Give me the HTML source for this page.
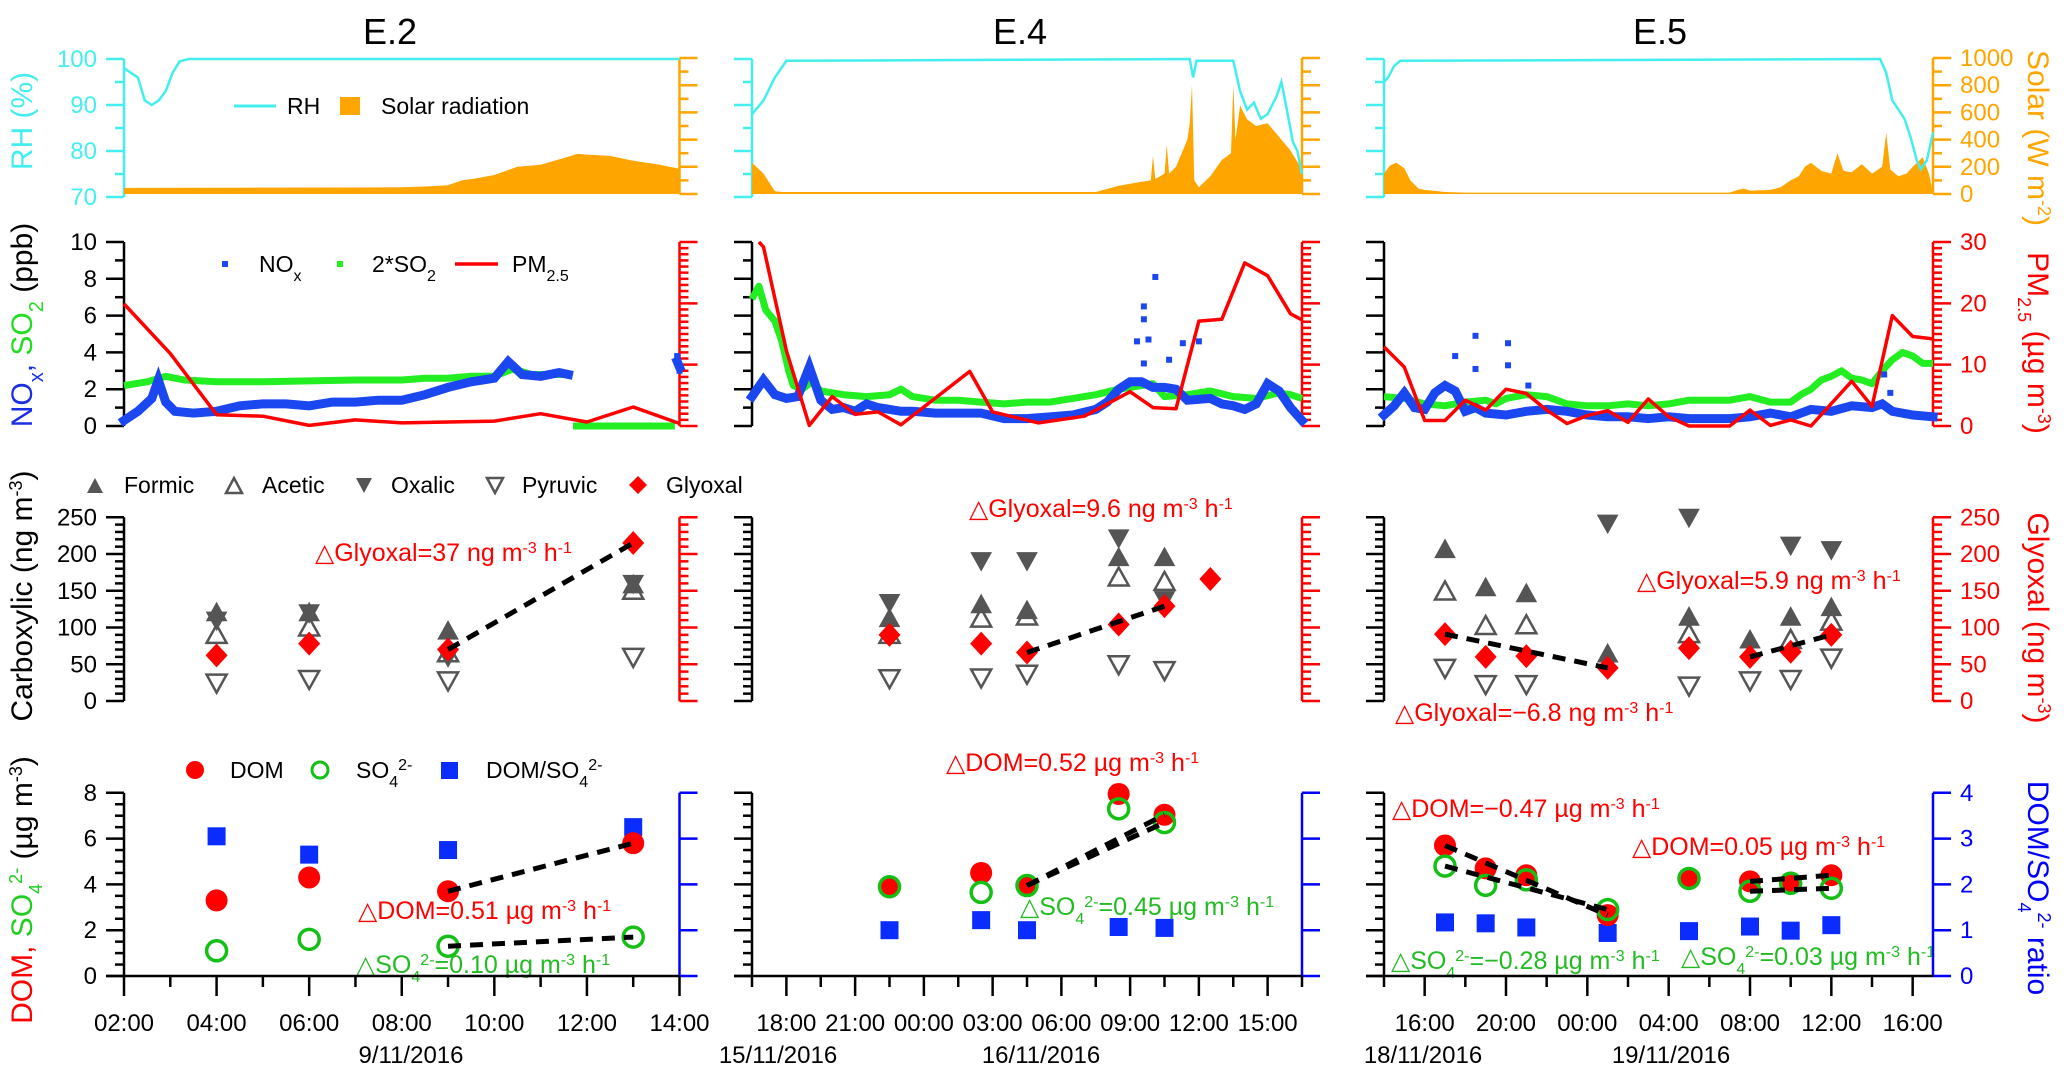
<!DOCTYPE html>
<html><head><meta charset="utf-8"><style>
html,body{margin:0;padding:0;background:#fff;}
svg{display:block;font-family:"Liberation Sans",Arial,sans-serif;}
</style></head><body>
<svg id="fig" width="2067" height="1078" viewBox="0 0 2067 1078" xmlns="http://www.w3.org/2000/svg">
<rect x="0" y="0" width="2067" height="1078" fill="#fff"/>
<g font-size="36" text-anchor="middle" fill="#000">
<text x="390" y="44">E.2</text>
<text x="1020" y="44">E.4</text>
<text x="1660" y="44">E.5</text>
</g>
<text transform="translate(32,121) rotate(-90)" font-size="30" text-anchor="middle" fill="#44eeee">RH (%)</text>
<text transform="translate(32,325) rotate(-90)" font-size="30" text-anchor="middle"><tspan fill="#1a2fe0">NO<tspan font-size="20" baseline-shift="sub">x</tspan>,</tspan> <tspan fill="#22dd22">SO<tspan font-size="20" baseline-shift="sub">2</tspan></tspan> <tspan fill="#000">(ppb)</tspan></text>
<text transform="translate(32,596) rotate(-90)" font-size="30" text-anchor="middle" fill="#000">Carboxylic (ng m<tspan font-size="18" baseline-shift="super">-3</tspan>)</text>
<text transform="translate(32,890) rotate(-90)" font-size="30" text-anchor="middle"><tspan fill="#ff0000">DOM,</tspan> <tspan fill="#22cc22">SO<tspan font-size="18" baseline-shift="sub">4</tspan><tspan font-size="18" baseline-shift="super">2-</tspan></tspan> <tspan fill="#000">(µg m<tspan font-size="18" baseline-shift="super">-3</tspan>)</tspan></text>
<text transform="translate(2028,138) rotate(90)" font-size="30" text-anchor="middle" fill="#ffa500">Solar (W m<tspan font-size="18" baseline-shift="super">-2</tspan>)</text>
<text transform="translate(2028,343) rotate(90)" font-size="30" text-anchor="middle" fill="#ff0000">PM<tspan font-size="18" baseline-shift="sub">2.5</tspan> (µg m<tspan font-size="18" baseline-shift="super">-3</tspan>)</text>
<text transform="translate(2028,618) rotate(90)" font-size="30" text-anchor="middle" fill="#ff0000">Glyoxal (ng m<tspan font-size="18" baseline-shift="super">-3</tspan>)</text>
<text transform="translate(2028,888) rotate(90)" font-size="30" text-anchor="middle" fill="#0000ff">DOM/SO<tspan font-size="18" baseline-shift="sub">4</tspan><tspan font-size="18" baseline-shift="super">2-</tspan> ratio</text>
<g font-size="23" fill="#000">
<line x1="234" y1="106" x2="276" y2="106" stroke="#44eeee" stroke-width="3"/>
<text x="287" y="114">RH</text>
<rect x="340" y="97" width="20" height="18" fill="#ffa500"/>
<text x="381" y="114">Solar radiation</text>
<rect x="222" y="261" width="6" height="6" fill="#1a47f0"/>
<text x="259" y="272">NO<tspan font-size="16" baseline-shift="sub">x</tspan></text>
<rect x="337" y="261" width="6" height="6" fill="#22ee22"/>
<text x="372" y="272">2*SO<tspan font-size="16" baseline-shift="sub">2</tspan></text>
<line x1="455" y1="264" x2="498" y2="264" stroke="#ff0000" stroke-width="3.5"/>
<text x="512" y="272">PM<tspan font-size="16" baseline-shift="sub">2.5</tspan></text>
<polygon points="87,493 95,478 103,493" fill="#555"/>
<text x="124" y="493">Formic</text>
<polygon points="226,493 234,478 242,493" fill="none" stroke="#555" stroke-width="2.5"/>
<text x="262" y="493">Acetic</text>
<polygon points="356,478 364,493 372,478" fill="#555"/>
<text x="391" y="493">Oxalic</text>
<polygon points="487,478 495,493 503,478" fill="none" stroke="#555" stroke-width="2.5"/>
<text x="522" y="493">Pyruvic</text>
<polygon points="638,476 647,485 638,494 629,485" fill="#ff0000"/>
<text x="666" y="493">Glyoxal</text>
<circle cx="195" cy="770" r="9" fill="#ff0000"/>
<text x="230" y="778">DOM</text>
<circle cx="320" cy="770" r="8" fill="none" stroke="#15c015" stroke-width="3"/>
<text x="356" y="778">SO<tspan font-size="16" baseline-shift="sub">4</tspan><tspan font-size="16" baseline-shift="super">2-</tspan></text>
<rect x="441" y="762" width="17" height="17" fill="#0a2cff"/>
<text x="486" y="778">DOM/SO<tspan font-size="16" baseline-shift="sub">4</tspan><tspan font-size="16" baseline-shift="super">2-</tspan></text>
</g>
<g font-size="25">
<text x="315" y="561" fill="#ff0000">△Glyoxal=37 ng m<tspan font-size="16" baseline-shift="super">-3</tspan> h<tspan font-size="16" baseline-shift="super">-1</tspan></text>
<text x="358" y="919" fill="#ff0000">△DOM=0.51 µg m<tspan font-size="16" baseline-shift="super">-3</tspan> h<tspan font-size="16" baseline-shift="super">-1</tspan></text>
<text x="356" y="973" fill="#22bb22">△SO<tspan font-size="16" baseline-shift="sub">4</tspan><tspan font-size="16" baseline-shift="super">2-</tspan>=0.10 µg m<tspan font-size="16" baseline-shift="super">-3</tspan> h<tspan font-size="16" baseline-shift="super">-1</tspan></text>
<text x="969" y="517" fill="#ff0000">△Glyoxal=9.6 ng m<tspan font-size="16" baseline-shift="super">-3</tspan> h<tspan font-size="16" baseline-shift="super">-1</tspan></text>
<text x="946" y="771" fill="#ff0000">△DOM=0.52 µg m<tspan font-size="16" baseline-shift="super">-3</tspan> h<tspan font-size="16" baseline-shift="super">-1</tspan></text>
<text x="1020" y="915" fill="#22bb22">△SO<tspan font-size="16" baseline-shift="sub">4</tspan><tspan font-size="16" baseline-shift="super">2-</tspan>=0.45 µg m<tspan font-size="16" baseline-shift="super">-3</tspan> h<tspan font-size="16" baseline-shift="super">-1</tspan></text>
<text x="1637" y="589" fill="#ff0000">△Glyoxal=5.9 ng m<tspan font-size="16" baseline-shift="super">-3</tspan> h<tspan font-size="16" baseline-shift="super">-1</tspan></text>
<text x="1395" y="721" fill="#ff0000">△Glyoxal=−6.8 ng m<tspan font-size="16" baseline-shift="super">-3</tspan> h<tspan font-size="16" baseline-shift="super">-1</tspan></text>
<text x="1392" y="817" fill="#ff0000">△DOM=−0.47 µg m<tspan font-size="16" baseline-shift="super">-3</tspan> h<tspan font-size="16" baseline-shift="super">-1</tspan></text>
<text x="1632" y="855" fill="#ff0000">△DOM=0.05 µg m<tspan font-size="16" baseline-shift="super">-3</tspan> h<tspan font-size="16" baseline-shift="super">-1</tspan></text>
<text x="1391" y="969" fill="#22bb22">△SO<tspan font-size="16" baseline-shift="sub">4</tspan><tspan font-size="16" baseline-shift="super">2-</tspan>=−0.28 µg m<tspan font-size="16" baseline-shift="super">-3</tspan> h<tspan font-size="16" baseline-shift="super">-1</tspan></text>
<text x="1681" y="965" fill="#22bb22">△SO<tspan font-size="16" baseline-shift="sub">4</tspan><tspan font-size="16" baseline-shift="super">2-</tspan>=0.03 µg m<tspan font-size="16" baseline-shift="super">-3</tspan> h<tspan font-size="16" baseline-shift="super">-1</tspan></text>
</g>
<g id="plot"></g>
</svg>
<script>
const e2RhT=[0,0.15,0.3,0.45,0.6,0.75,0.9,1.05,1.2,1.4,12];
const e2RhV=[98,97,96,91,90,91,93,97,99.5,100,100];
const e2SolT=[0,5,6,6.5,7,7.3,7.6,8,8.5,9,9.5,9.8,10,10.5,11,11.5,12];
const e2SolV=[45,48,50,55,65,100,115,140,200,215,265,295,290,280,245,220,185];
const e4RhT=[0,0.5,1,1.5,19.1,19.25,19.4,21,21.3,21.6,21.9,22.2,22.5,22.9,23.1,23.3,23.6,23.8,24];
const e4RhV=[88,91,96,99.6,100,96,99.6,99.6,93,89,90.5,87,88,92,95,90,82,80,75];
const e4SolT=[0,0.5,1,1.3,15,16,17,17.4,17.5,17.6,18,18.1,18.2,18.5,19,19.1,19.2,19.3,19.5,20,20.5,20.9,21,21.1,21.3,21.6,22,22.5,23,23.5,24];
const e4SolV=[230,150,20,15,15,60,90,100,280,110,150,360,150,200,400,520,800,100,50,130,250,300,800,400,650,550,500,520,420,320,180];
const e5RhT=[0,0.2,0.5,0.8,24.4,24.7,25,25.3,25.6,25.9,26.2,26.4,26.7,27];
const e5RhV=[95,96,98.5,99.6,100,97,91,89,87,83,78,76,78,84];
const e5SolT=[0,0.3,0.6,1,1.3,1.7,2,3,4,17,17.4,17.7,18,19,19.5,20,20.4,20.7,21,21.5,22,22.3,22.6,23,23.5,24,24.5,24.7,24.9,25.3,25.7,26,26.5,26.8,27];
const e5SolV=[150,210,230,190,100,40,30,15,10,10,30,40,25,30,50,100,130,200,230,170,150,300,170,160,220,150,200,450,180,130,150,200,270,150,10];

const e2NoxT=[0,0.3,0.6,0.74,0.9,1.1,1.5,2,2.5,3,3.5,4,4.5,5,5.5,6,6.5,7,7.5,8,8.3,8.6,9,9.4,9.6,9.7,11.95,12];
const e2NoxV=[0.3,0.8,1.5,2.5,1.3,0.8,0.7,0.8,1.1,1.2,1.2,1.1,1.3,1.3,1.4,1.4,1.7,2.1,2.4,2.6,3.5,2.8,2.7,2.9,2.8,null,3.5,3.2];
const e2So2T=[0,0.5,0.9,1.3,2,3,4,5,6,6.5,7,7.5,8,8.4,8.8,9.6,9.65,9.7,11.9,11.95,12];
const e2So2V=[2.2,2.4,2.7,2.5,2.4,2.4,2.45,2.5,2.5,2.6,2.6,2.7,2.7,3.1,2.8,2.8,null,0,0,null,2.6];
const e2PmT=[0,1,2,3,4,5,6,8,9,10,11,12];
const e2PmV=[19.9,11.8,1.85,1.6,0.1,1.0,0.5,0.8,2.0,0.65,3.1,0.4];
const e2NoxOutT=[11.95,12];
const e2NoxOutV=[3.8,3.0];

const e4NoxT=[0,0.5,1,1.5,2,2.5,3,3.5,4,4.5,5,5.5,6,6.5,7,8,9,10,11,12,13,14,15,15.5,16,16.5,17,17.5,18,18.5,19,20,20.5,21,21.5,22,22.5,23,23.5,24];
const e4NoxV=[1.6,2.5,1.7,1.5,1.6,3.2,1.4,0.9,1.0,0.8,1.2,1.0,0.9,0.8,0.8,0.7,0.7,0.7,0.4,0.4,0.5,0.6,0.9,1.3,2.0,2.4,2.4,2.1,2.1,2.0,1.4,1.5,1.2,1.1,0.9,1.2,2.3,1.9,1.0,0.3];
const e4NoxOutT=[17.6,17.1,17.1,16.8,17.3,18.2,18.8,19.5,17.1];
const e4NoxOutV=[8.1,6.5,5.8,4.6,4.7,3.6,4.5,4.6,3.4];
const e4So2T=[0,0.3,0.6,1,1.3,1.6,1.8,2.2,2.6,3,4,5,6,6.5,7,8,9,10,11,12,13,14,15,16,17,17.5,18,19,20,21,22,23,23.5,24];
const e4So2V=[6.9,7.6,6.3,5.7,4.6,3.0,2.2,2.0,2.4,1.9,1.7,1.6,1.7,2.0,1.6,1.4,1.4,1.3,1.2,1.3,1.3,1.5,1.7,2.0,2.2,2.3,1.6,1.7,1.9,1.6,1.5,1.8,1.7,1.5];
const e4PmT=[0.3,0.5,1.5,2.5,3.5,4.5,5.5,6.5,9.5,10.5,12.5,14.5,16.5,17.5,18.5,19.5,20.5,21.5,22.5,23.5,24];
const e4PmV=[30,29.2,12.3,0.1,4.8,1.9,2.3,0.2,8.9,2.3,0.5,1.6,5.6,3.0,2.8,17.1,17.4,26.6,24.5,18.3,17.3];

const e5NoxT=[0,0.5,1,1.5,2,2.5,3,3.5,4,4.5,5,6,7,8,9,10,11,12,13,14,15,16,17,18,19,20,21,22,23,24,24.5,25,26,27];
const e5NoxV=[0.6,1.1,1.8,1.0,0.9,1.8,2.2,1.9,0.8,1.0,0.7,0.6,0.8,0.9,0.8,0.6,0.5,0.5,0.4,0.5,0.4,0.4,0.4,0.5,0.7,0.5,0.9,0.8,1.1,1.0,1.2,0.8,0.6,0.5];
const e5NoxOutT=[3.5,4.5,4.5,6.1,6.1,7.1,24.6,24.9];
const e5NoxOutV=[3.8,4.9,3.1,4.5,3.3,2.2,2.8,1.8];
const e5So2T=[0,1,2,3,4,5,5.5,6,7,8,9,10,11,12,13,14,15,16,17,18,19,20,20.5,21,21.5,22,22.5,23,23.5,24,24.5,25,25.5,26,26.5,27];
const e5So2V=[1.6,1.5,1.2,1.1,1.3,1.4,1.2,1.5,1.7,1.6,1.2,1.1,1.1,1.2,1.1,1.2,1.4,1.4,1.4,1.6,1.3,1.3,1.7,2.0,2.5,2.7,3.0,2.6,2.5,2.3,3.0,3.6,4.0,3.8,3.4,3.4];
const e5PmT=[0,1,2,3,4,5,6,7,8,9,10,11,12,13,14,15,17,18,19,20,21,23,24,25,26,27];
const e5PmV=[12.9,9.6,0.9,0.9,4.2,2.6,6.0,5.3,2.6,0.4,1.7,2.5,0.6,4.4,1.5,0,0,2.6,0.1,1.0,0,7.3,3.2,18,14.6,14.2];

const e2SampleT=[2,4,7,11];
const e2Formic=[120,120,95,158];
const e2Acetic=[90,100,65,150];
const e2Oxalic=[110,120,60,160];
const e2Pyruvic=[25,30,28,60];
const e2GlyT=[2,4,7,11];
const e2Glyoxal=[62,78,70,215];
const e2Dom=[3.3,4.3,3.7,5.8];
const e2So4=[1.1,1.6,1.3,1.7];
const e2Ratio=[3.05,2.65,2.75,3.25];

const e4SampleT=[6,10,12,16,18];
const e4Formic=[112,131,123,195,195];
const e4Acetic=[90,112,115,168,162];
const e4Oxalic=[134,191,191,222,138];
const e4Pyruvic=[31,32,37,50,42];
const e4GlyT=[6,10,12,16,18,20];
const e4Glyoxal=[90,78,66,104,129,166];
const e4Dom=[3.9,4.5,3.95,7.95,7.04];
const e4So4=[3.9,3.65,3.95,7.3,6.7];
const e4Ratio=[1.0,1.22,1.0,1.07,1.05];

const e5SampleT=[3,5,7,11,15,18,20,22];
const e5Formic=[206,154,146,64,114,83,114,127];
const e5Acetic=[149,102,103,null,91,null,83,108];
const e5Oxalic=[null,null,null,242,250,null,212,206];
const e5Pyruvic=[45,23,23,null,21,28,30,59];
const e5GlyT=[3,5,7,11,15,18,20,22];
const e5Glyoxal=[91,60,61,45,72,60,67,90];
const e5Dom=[5.7,4.7,4.4,2.66,4.26,4.13,4.08,4.4];
const e5So4=[4.8,3.96,4.2,2.9,4.26,3.7,4.05,3.83];
const e5Ratio=[1.17,1.15,1.06,0.94,0.98,1.08,0.99,1.11];

const e2Fits=[[2,3]];
const e4Fits=[[2,4]];
const e5Fits=[[0,3],[5,7]];

const rhTicks=[70,80,90,100];
const solarTicks=[0,200,400,600,800,1000];
const ppbTicks=[0,2,4,6,8,10];
const pmTicks=[0,10,20,30];
const carbTicks=[0,50,100,150,200,250];
const domTicks=[0,2,4,6,8];
const ratioTicks=[0,1,2,3,4];
const e2XLabels=['02:00','04:00','06:00','08:00','10:00','12:00','14:00'];
const e4XLabels=['18:00','21:00','00:00','03:00','06:00','09:00','12:00','15:00'];
const e5XLabels=['16:00','20:00','00:00','04:00','08:00','12:00','16:00'];

const NS='http://www.w3.org/2000/svg';
const plot=document.getElementById('plot');
const cols=[{x0:124,x1:679.5,h:12},{x0:752,x1:1302,h:24},{x0:1384,x1:1933,h:27}];
function xs(c,t){return cols[c].x0+t/cols[c].h*(cols[c].x1-cols[c].x0);}
const yRh=v=>197-(v-70)*(138/30);
const ySol=v=>194-v*0.136;
const yPpb=v=>426-v*18.4;
const yPm=v=>426-v*(184/30);
const yCarb=v=>701-v*0.735;
const yDom=v=>976-v*22.9;
const yRat=v=>976-v*45.8;

function mk(tag,attrs,parent){const e=document.createElementNS(NS,tag);for(const k in attrs)e.setAttribute(k,attrs[k]);(parent||plot).appendChild(e);return e;}
function linePath(c,T,V,yf){let d='',pen=false;for(let i=0;i<T.length;i++){if(V[i]===null){pen=false;continue;}d+=(pen?'L':'M')+xs(c,T[i]).toFixed(1)+','+yf(V[i]).toFixed(1);pen=true;}return d;}

function vAxis(x,yTop,yBot,vmin,vmax,yf,major,minor,color,side,labels,name){
  const g=mk('g',{});
  
  
  mk('line',{x1:x,y1:yTop,x2:x,y2:yBot,stroke:color,'stroke-width':2.5},g);
  const dir=side==='left'?-1:1;
  const n=Math.round((vmax-vmin)/minor);
  for(let i=0;i<=n;i++){const v=vmin+i*minor;const isMaj=Math.abs(v/major-Math.round(v/major))<1e-6;const y=yf(v);
    mk('line',{x1:x,y1:y,x2:x+dir*(isMaj?18:9),y2:y,stroke:color,'stroke-width':2.5},g);}
  if(labels){labels.forEach(v=>{const t=mk('text',{x:side==='left'?x-27:x+27,y:yf(v)+8,'font-size':24,fill:color,'text-anchor':side==='left'?'end':'start'},g);t.textContent=v;
    
    });}
}
for(let c=0;c<3;c++){
  const L=cols[c].x0,R=cols[c].x1;
  vAxis(L,yRh(100),yRh(70),70,100,yRh,10,5,'#44eeee','left',c===0?rhTicks:null,'rh-axis-'+c);
  vAxis(R,ySol(1000),ySol(0),0,1000,ySol,200,100,'#ffa500','right',c===2?solarTicks:null,'solar-axis-'+c);
  vAxis(L,yPpb(10),yPpb(0),0,10,yPpb,2,1,'#000','left',c===0?ppbTicks:null,'ppb-axis-'+c);
  vAxis(R,yPm(30),yPm(0),0,30,yPm,10,1,'#ff0000','right',c===2?pmTicks:null,'pm25-axis-'+c);
  vAxis(L,yCarb(250),yCarb(0),0,250,yCarb,50,10,'#000','left',c===0?carbTicks:null,'carboxylic-axis-'+c);
  vAxis(R,yCarb(250),yCarb(0),0,250,yCarb,50,10,'#ff0000','right',c===2?carbTicks:null,'glyoxal-axis-'+c);
  vAxis(L,yDom(8),yDom(0),0,8,yDom,2,0.5,'#000','left',c===0?domTicks:null,'dom-axis-'+c);
  vAxis(R,yRat(4),yRat(0),0,4,yRat,1,1,'#0000ff','right',c===2?ratioTicks:null,'ratio-axis-'+c);
  const xa=mk('line',{x1:L-18,y1:976,x2:R,y2:976,stroke:'#000','stroke-width':2.5});
  
  
}
function xTicks(c,start,step,labels,firstLab,name){
  for(let t=start;t<=cols[c].h+1e-6;t+=step/2){
    const maj=Math.abs(((t-firstLab)/step)-Math.round((t-firstLab)/step))<1e-6 && t>=firstLab-1e-6;
    const l=mk('line',{x1:xs(c,t),y1:976,x2:xs(c,t),y2:maj?996:987,stroke:'#000','stroke-width':2.5});
    
    
  }
  labels.forEach((s,i)=>{const tx=mk('text',{x:xs(c,firstLab+i*step),y:1031,'font-size':24,'text-anchor':'middle',fill:'#000'});tx.textContent=s;
    
    });
}
xTicks(0,0,2,e2XLabels,0,'x-e2');
xTicks(1,0,3,e4XLabels,1.5,'x-e4');
xTicks(2,0,4,e5XLabels,2,'x-e5');
[[411,'9/11/2016'],[778,'15/11/2016'],[1041,'16/11/2016'],[1423,'18/11/2016'],[1671,'19/11/2016']].forEach(d=>{
  const t=mk('text',{x:d[0],y:1063,'font-size':24,'text-anchor':'middle',fill:'#000'});t.textContent=d[1];
  
  
});

function solar(c,T,V){let d='M'+xs(c,T[0])+','+ySol(0);T.forEach((t,i)=>{d+='L'+xs(c,t).toFixed(1)+','+ySol(V[i]).toFixed(1);});d+='L'+xs(c,T[T.length-1])+','+ySol(0)+'Z';
  const p=mk('path',{d:d,fill:'#ffa500'});
  
  }
function rh(c,T,V){const p=mk('path',{d:linePath(c,T,V,yRh),fill:'none',stroke:'#44eeee','stroke-width':2.5});
  
  }
function nox(c,T,V,OT,OV){const p=mk('path',{d:linePath(c,T,V,yPpb),fill:'none',stroke:'#1a47f0','stroke-width':9,'stroke-linejoin':'miter','stroke-linecap':'square'});
  
  
  OT.forEach((t,i)=>{const r=mk('rect',{x:xs(c,t)-3,y:yPpb(OV[i])-3,width:6,height:6,fill:'#1a47f0'});
    
    });}
function so2(c,T,V){const p=mk('path',{d:linePath(c,T,V,yPpb),fill:'none',stroke:'#22ee22','stroke-width':7,'stroke-linejoin':'round'});
  
  }
function pm(c,T,V){const p=mk('path',{d:linePath(c,T,V,yPm),fill:'none',stroke:'#ff0000','stroke-width':3.5,'stroke-linejoin':'round'});
  
  }
solar(0,e2SolT,e2SolV);solar(1,e4SolT,e4SolV);solar(2,e5SolT,e5SolV);
rh(0,e2RhT,e2RhV);rh(1,e4RhT,e4RhV);rh(2,e5RhT,e5RhV);
so2(0,e2So2T,e2So2V);so2(1,e4So2T,e4So2V);so2(2,e5So2T,e5So2V);
nox(0,e2NoxT,e2NoxV,e2NoxOutT,e2NoxOutV);nox(1,e4NoxT,e4NoxV,e4NoxOutT,e4NoxOutV);nox(2,e5NoxT,e5NoxV,e5NoxOutT,e5NoxOutV);
pm(0,e2PmT,e2PmV);pm(1,e4PmT,e4PmV);pm(2,e5PmT,e5PmV);

function tri(c,T,V,up,filled,name){T.forEach((t,i)=>{if(V[i]===null)return;const x=xs(c,t),y=yCarb(V[i]);
  const pts=up?`${x-10},${y+8} ${x},${y-10} ${x+10},${y+8}`:`${x-10},${y-8} ${x},${y+10} ${x+10},${y-8}`;
  const p=mk('polygon',{points:pts,fill:filled?'#555':'none',stroke:'#555','stroke-width':filled?1:2.5});
  
  });}
function dia(c,T,V){T.forEach((t,i)=>{const x=xs(c,t),y=yCarb(V[i]);
  const p=mk('polygon',{points:`${x},${y-12} ${x+11},${y} ${x},${y+12} ${x-11},${y}`,fill:'#ff0000'});
  
  });}
function fit(c,T,V,fits,yf,name){fits.forEach(f=>{const l=mk('line',{x1:xs(c,T[f[0]]),y1:yf(V[f[0]]),x2:xs(c,T[f[1]]),y2:yf(V[f[1]]),stroke:'#000','stroke-width':5,'stroke-dasharray':'13,9'});
  
  });}
function domPts(c,T,D,S,R){
  T.forEach((t,i)=>{const r=mk('rect',{x:xs(c,t)-9,y:yRat(R[i])-9,width:18,height:18,fill:'#0a2cff'});
    
    });
  T.forEach((t,i)=>{const d=mk('circle',{cx:xs(c,t),cy:yDom(D[i]),r:11,fill:'#ff0000'});
    
    });
  T.forEach((t,i)=>{const s=mk('circle',{cx:xs(c,t),cy:yDom(S[i]),r:10,fill:'none',stroke:'#15c015','stroke-width':3.5});
    
    });
}
const sets=[
 [0,e2SampleT,e2Formic,e2Acetic,e2Oxalic,e2Pyruvic,e2GlyT,e2Glyoxal,e2Dom,e2So4,e2Ratio,e2Fits],
 [1,e4SampleT,e4Formic,e4Acetic,e4Oxalic,e4Pyruvic,e4GlyT,e4Glyoxal,e4Dom,e4So4,e4Ratio,e4Fits],
 [2,e5SampleT,e5Formic,e5Acetic,e5Oxalic,e5Pyruvic,e5GlyT,e5Glyoxal,e5Dom,e5So4,e5Ratio,e5Fits]];
sets.forEach(s=>{const [c,T,F,A,O,P,GT,G,D,S,R,fits]=s;
  tri(c,T,P,false,false,'pyruvic-marker');
  tri(c,T,A,true,false,'acetic-marker');
  tri(c,T,O,false,true,'oxalic-marker');
  tri(c,T,F,true,true,'formic-marker');
  dia(c,GT,G);
  fit(c,GT,G,fits,yCarb,'glyoxal-fit-line');
  domPts(c,T,D,S,R);
  fit(c,T,D,fits,yDom,'dom-fit-line');
  fit(c,T,S,fits,yDom,'so4-fit-line');
});
</script>
</body></html>
